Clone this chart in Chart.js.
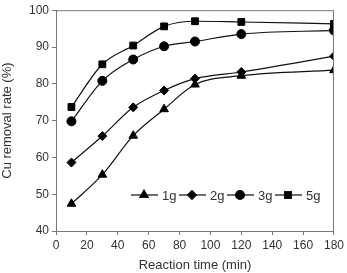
<!DOCTYPE html>
<html>
<head>
<meta charset="utf-8">
<script src="https://cdn.jsdelivr.net/npm/chart.js@4.4.0/dist/chart.umd.min.js"></script>
<style>
  html, body { margin: 0; padding: 0; background: #fff; }
  #wrap { width: 347px; height: 273px; }
</style>
</head>
<body>
<div id="wrap"><canvas id="chart"></canvas></div>
<script>
// reaction time (min)
const times = [10, 30, 50, 70, 90, 120, 180];
// Cu removal rate (%) per adsorbent dose
const dose1g = [47.4, 55.3, 65.9, 73.1, 79.8, 82.2, 83.7];
const dose2g = [58.6, 65.8, 73.6, 78.2, 81.4, 83.2, 87.5];
const dose3g = [69.8, 80.8, 86.6, 90.2, 91.5, 93.5, 94.5];
const dose5g = [73.7, 85.3, 90.4, 95.6, 97.0, 96.8, 96.3];
const seriesNames = ['1g', '2g', '3g', '5g'];
const markers = ['triangle', 'rectRot', 'circle', 'rect'];
const markerSizes = [5, 4.5, 4.5, 4.8];

function toPoints(vals) {
    return times.map(function(t, i) { return { x: t, y: vals[i] }; });
}

const allSeries = [dose1g, dose2g, dose3g, dose5g];

const datasets = allSeries.map(function(vals, i) {
    return {
        label: seriesNames[i],
        data: toPoints(vals),
        borderColor: '#111',
        backgroundColor: '#000',
        borderWidth: 1.2,
        pointStyle: markers[i],
        pointRadius: markerSizes[i],
        pointBackgroundColor: '#000',
        pointBorderColor: '#000',
        pointBorderWidth: 1,
        cubicInterpolationMode: 'monotone',
        fill: false
    };
});

const FONT = '"Liberation Sans", Arial, sans-serif';

// box around the plot + legend drawn inside the plot area
const boxAndLegend = {
    id: 'boxAndLegend',
    afterDraw: function(chart) {
        const ctx = chart.ctx;
        const a = chart.chartArea;
        ctx.save();
        ctx.strokeStyle = '#777';
        ctx.lineWidth = 1;
        ctx.strokeRect(a.left + 0.5, a.top + 0.5, a.right - a.left - 1, a.bottom - a.top);

        // legend
        const y = 195;
        let x = 131;
        ctx.font = '13px ' + FONT;
        ctx.textBaseline = 'middle';
        chart.data.datasets.forEach(function(ds) {
            ctx.strokeStyle = '#111';
            ctx.lineWidth = 1.2;
            ctx.beginPath();
            ctx.moveTo(x, y);
            ctx.lineTo(x + 27, y);
            ctx.stroke();
            ctx.fillStyle = '#000';
            Chart.helpers.drawPoint(ctx, {
                pointStyle: ds.pointStyle,
                radius: ds.pointRadius,
                borderWidth: 1
            }, x + 13, y);
            ctx.fillStyle = '#333';
            ctx.fillText(ds.label, x + 31, y + 1);
            x += 48;
        });
        ctx.restore();
    }
};

const ctx = document.getElementById('chart').getContext('2d');
const chart = new Chart(ctx, {
    type: 'line',
    data: { datasets: datasets },
    options: {
        responsive: true,
        maintainAspectRatio: false,
        animation: false,
        layout: { padding: { top: 7, right: 13, left: 0, bottom: 0 } },
        plugins: {
            legend: { display: false },
            tooltip: { enabled: false }
        },
        scales: {
            x: {
                type: 'linear',
                min: 0,
                max: 180,
                ticks: {
                    stepSize: 20,
                    color: '#333',
                    font: { family: FONT, size: 12 },
                    padding: 3,
                    maxRotation: 0
                },
                grid: { drawOnChartArea: false, drawTicks: true, tickLength: 4, color: '#777' },
                border: { display: true, color: '#777' },
                title: {
                    display: true,
                    text: 'Reaction time (min)',
                    color: '#333',
                    font: { family: FONT, size: 13 },
                    padding: { top: 1, bottom: 0 }
                },
                afterFit: function(scale) { scale.height = 42; }
            },
            y: {
                min: 40,
                max: 100,
                ticks: {
                    stepSize: 10,
                    color: '#333',
                    font: { family: FONT, size: 12 },
                    padding: 3
                },
                grid: { drawOnChartArea: false, drawTicks: true, tickLength: 4, color: '#777' },
                border: { display: true, color: '#777' },
                title: {
                    display: true,
                    text: 'Cu removal rate (%)',
                    color: '#333',
                    font: { family: FONT, size: 13 },
                    padding: { top: 0, bottom: 1 }
                },
                afterFit: function(scale) { scale.width = 56; }
            }
        }
    },
    plugins: [boxAndLegend]
});
</script>
</body>
</html>
